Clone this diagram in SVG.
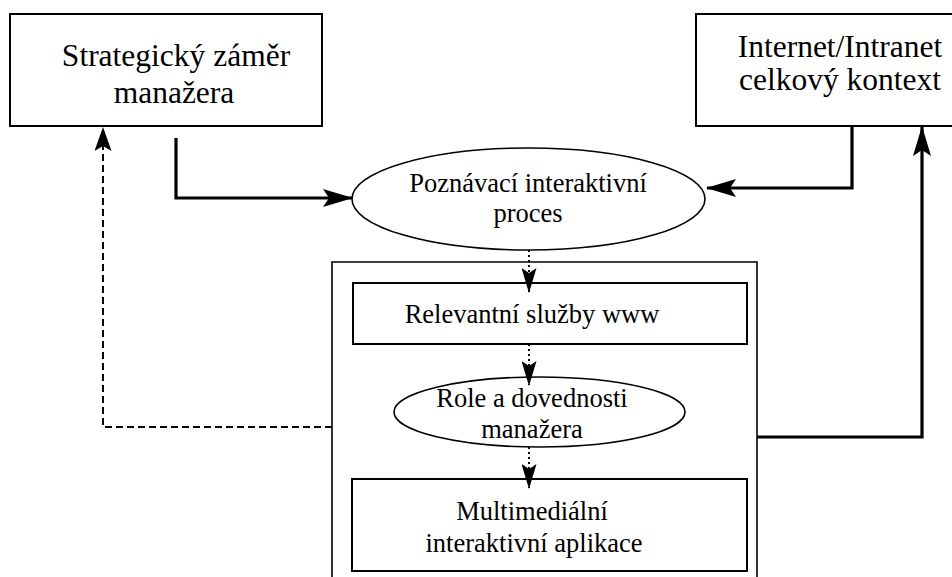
<svg xmlns="http://www.w3.org/2000/svg" width="952" height="577" viewBox="0 0 952 577">
  <style>
    .box { fill: #fff; stroke: #000; stroke-width: 2; }
    .frame { fill: none; stroke: #000; stroke-width: 1.6; }
    .oval { fill: #fff; stroke: #000; stroke-width: 1.6; }
    .big { font-size: 31.5px; fill: #000; text-anchor: middle; }
    .small { font-size: 26.5px; fill: #000; text-anchor: middle; }
    .thick { fill: none; stroke: #000; stroke-width: 3.2; }
    .dashed { fill: none; stroke: #000; stroke-width: 2; stroke-dasharray: 7 4; }
    .dotted { fill: none; stroke: #000; stroke-width: 2; stroke-dasharray: 2 3; }
  </style>
  <defs>
    <marker id="head" viewBox="0 0 30 18" refX="29" refY="9" markerWidth="30" markerHeight="18" markerUnits="userSpaceOnUse" orient="auto">
      <path d="M0,0 L30,9 L0,18 L6,9 z" fill="#000"/>
    </marker>
    <marker id="head-small" viewBox="0 0 25 15" refX="24" refY="7.5" markerWidth="25" markerHeight="15" markerUnits="userSpaceOnUse" orient="auto">
      <path d="M0,0 L25,7.5 L0,15 L5,7.5 z" fill="#000"/>
    </marker>
    <marker id="head-dash" viewBox="0 0 24 17" refX="23" refY="8.5" markerWidth="24" markerHeight="17" markerUnits="userSpaceOnUse" orient="auto">
      <path d="M0,0 L24,8.5 L0,17 L5,8.5 z" fill="#000"/>
    </marker>
  </defs>

  <g font-family="Liberation Serif, Times New Roman, DejaVu Serif, serif">
    <!-- container around the web layer -->
    <g id="container">
      <path class="frame" d="M332,577 V262 H757 V577"/>
    </g>

    <g id="strategy">
      <rect class="box" x="10" y="14" width="312" height="112"/>
      <text class="big" x="176" y="66">Strategický záměr</text>
      <text class="big" x="174" y="103">manažera</text>
    </g>

    <g id="internet">
      <rect class="box" x="696" y="14" width="270" height="112"/>
      <text class="big" x="840" y="57" font-size="29.5">Internet/Intranet</text>
      <text class="big" x="840" y="90" font-size="29.5">celkový kontext</text>
    </g>

    <g id="process">
      <ellipse class="oval" cx="528.5" cy="199" rx="176.5" ry="51"/>
      <text class="small" x="528" y="192">Poznávací interaktivní</text>
      <text class="small" x="528" y="222">proces</text>
    </g>

    <g id="services">
      <rect class="box" x="353" y="283" width="394" height="61"/>
      <text class="small" x="532" y="323">Relevantní služby www</text>
    </g>

    <g id="roles">
      <ellipse class="oval" cx="539.5" cy="412" rx="145.5" ry="35"/>
      <text class="small" x="532" y="407">Role a dovednosti</text>
      <text class="small" x="532" y="438">manažera</text>
    </g>

    <g id="application">
      <rect class="box" x="352" y="479" width="395" height="92"/>
      <text class="small" x="532" y="520">Multimediální</text>
      <text class="small" x="534" y="552">interaktivní aplikace</text>
    </g>
  </g>

  <g id="connectors">
    <path class="thick" d="M176,138 V198 H352" marker-end="url(#head)"/>
    <path class="thick" d="M852,126 V188 H707" marker-end="url(#head)"/>
    <path class="thick" d="M757,437 H922 V127" marker-end="url(#head)"/>
    <path class="dashed" d="M332,427 H103 V128" marker-end="url(#head-dash)"/>
    <path class="dotted" d="M529,250 V292" marker-end="url(#head-small)"/>
    <path class="dotted" d="M529,344 V385" marker-end="url(#head-small)"/>
    <path class="dotted" d="M529,447 V488" marker-end="url(#head-small)"/>
  </g>
</svg>
